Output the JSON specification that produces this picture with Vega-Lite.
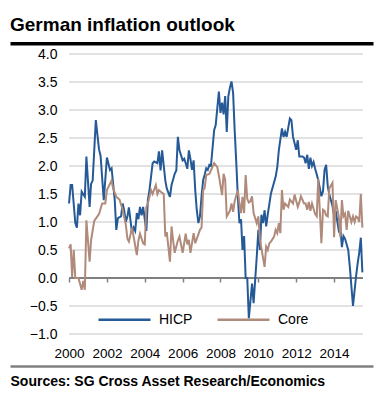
{
  "$schema": "https://vega.github.io/schema/vega-lite/v6.json",
  "width": 363,
  "height": 280,
  "autosize": {"type": "none"},
  "padding": {"left": 10, "top": 54, "right": 7, "bottom": 69},
  "background": "white",
  "config": {
    "font": "Liberation Sans",
    "view": {"stroke": null},
    "axisY": {
      "orient": "left", "offset": -59, "format": ".1f", "domain": false, "ticks": false, "grid": false,
      "labelOverlap": false, "labelPadding": 12, "labelFontSize": 14, "labelColor": "#000000"
    }
  },
  "title": {
    "text": "German inflation outlook",
    "anchor": "start",
    "fontSize": 19,
    "fontWeight": "bold",
    "color": "#000000",
    "offset": 8
  },
  "resolve": {"axis": {"x": "independent"}},
  "layer": [
    {
      "data": {"values": [{"level": -1}, {"level": -0.5}, {"level": 0.5}, {"level": 1}, {"level": 1.5}, {"level": 2}, {"level": 2.5}, {"level": 3}, {"level": 3.5}, {"level": 4}]},
      "mark": {"type": "rule", "color": "#d9d9d9", "strokeWidth": 1.5},
      "encoding": {
        "y": {
          "field": "level", "type": "quantitative", "title": null,
          "scale": {"domain": [-1, 4], "nice": false, "zero": false},
          "axis": {"values": [-1, -0.5, 0, 0.5, 1, 1.5, 2, 2.5, 3, 3.5, 4], "tickCount": 11}
        },
        "x": {
          "datum": {"year": 2000, "month": 1, "date": 1, "utc": true}, "type": "temporal",
          "scale": {"type": "utc", "domain": [{"year": 1996, "month": 11, "date": 18, "utc": true}, {"year": 2016, "month": 1, "date": 22, "utc": true}]},
          "axis": {
            "orient": "bottom", "offset": 32,
            "values": [{"year": 2000, "utc": true}, {"year": 2002, "utc": true}, {"year": 2004, "utc": true}, {"year": 2006, "utc": true}, {"year": 2008, "utc": true}, {"year": 2010, "utc": true}, {"year": 2012, "utc": true}, {"year": 2014, "utc": true}],
            "format": "%Y", "formatType": "utc", "labelOverlap": false,
            "domainColor": "#808080", "domainWidth": 2.5, "ticks": false, "grid": false,
            "labelBaseline": "middle", "labelPadding": -13, "labelFontSize": 13.5, "labelColor": "#000000",
            "title": "Sources: SG Cross Asset Research/Economics",
            "titleAnchor": "start", "titleAlign": "left", "titleFontSize": 14, "titleFontWeight": "bold",
            "titleColor": "#000000", "titlePadding": 8
          }
        },
        "x2": {"datum": {"year": 2015, "month": 7, "date": 12, "utc": true}}
      }
    },
    {
      "data": {"values": [{"level": 0}]},
      "mark": {"type": "rule", "color": "#808080", "strokeWidth": 2},
      "encoding": {
        "y": {"field": "level", "type": "quantitative", "title": null, "scale": {"domain": [-1, 4], "nice": false, "zero": false},
          "axis": {"values": [-1, -0.5, 0, 0.5, 1, 1.5, 2, 2.5, 3, 3.5, 4], "tickCount": 11}},
        "x": {
          "datum": {"year": 2000, "month": 1, "date": 1, "utc": true}, "type": "temporal",
          "scale": {"type": "utc", "domain": [{"year": 1996, "month": 11, "date": 18, "utc": true}, {"year": 2016, "month": 1, "date": 22, "utc": true}]},
          "axis": {
            "orient": "bottom", "offset": -56,
            "values": [{"year": 2000, "utc": true}, {"year": 2002, "utc": true}, {"year": 2004, "utc": true}, {"year": 2006, "utc": true}, {"year": 2008, "utc": true}, {"year": 2010, "utc": true}, {"year": 2012, "utc": true}, {"year": 2014, "utc": true}],
            "domain": false, "labels": false, "grid": false, "ticks": true,
            "tickColor": "#808080", "tickSize": 4, "tickWidth": 1.5, "title": null
          }
        },
        "x2": {"datum": {"year": 2015, "month": 7, "date": 12, "utc": true}}
      }
    },
    {
      "data": {"values": [
        {"date": "2000-01-01", "series": "HICP", "value": 1.33},
        {"date": "2000-02-01", "series": "HICP", "value": 1.66},
        {"date": "2000-03-01", "series": "HICP", "value": 1.66},
        {"date": "2000-05-01", "series": "HICP", "value": 0.98},
        {"date": "2000-06-01", "series": "HICP", "value": 0.90},
        {"date": "2000-07-01", "series": "HICP", "value": 1.33},
        {"date": "2000-08-01", "series": "HICP", "value": 1.12},
        {"date": "2000-09-01", "series": "HICP", "value": 1.54},
        {"date": "2000-11-01", "series": "HICP", "value": 1.45},
        {"date": "2000-12-01", "series": "HICP", "value": 2.17},
        {"date": "2001-02-01", "series": "HICP", "value": 1.27},
        {"date": "2001-03-01", "series": "HICP", "value": 1.68},
        {"date": "2001-04-01", "series": "HICP", "value": 1.74},
        {"date": "2001-06-01", "series": "HICP", "value": 2.82},
        {"date": "2001-08-01", "series": "HICP", "value": 2.30},
        {"date": "2001-09-01", "series": "HICP", "value": 2.18},
        {"date": "2001-11-01", "series": "HICP", "value": 1.39},
        {"date": "2002-01-01", "series": "HICP", "value": 2.15},
        {"date": "2002-03-01", "series": "HICP", "value": 1.93},
        {"date": "2002-04-01", "series": "HICP", "value": 1.96},
        {"date": "2002-06-01", "series": "HICP", "value": 1.39},
        {"date": "2002-07-01", "series": "HICP", "value": 0.86},
        {"date": "2002-08-01", "series": "HICP", "value": 1.07},
        {"date": "2002-10-01", "series": "HICP", "value": 1.10},
        {"date": "2002-11-01", "series": "HICP", "value": 1.33},
        {"date": "2002-12-01", "series": "HICP", "value": 1.20},
        {"date": "2003-01-01", "series": "HICP", "value": 1.00},
        {"date": "2003-02-01", "series": "HICP", "value": 1.10},
        {"date": "2003-03-01", "series": "HICP", "value": 1.26},
        {"date": "2003-05-01", "series": "HICP", "value": 0.80},
        {"date": "2003-06-01", "series": "HICP", "value": 0.90},
        {"date": "2003-07-01", "series": "HICP", "value": 0.84},
        {"date": "2003-08-01", "series": "HICP", "value": 1.16},
        {"date": "2003-09-01", "series": "HICP", "value": 1.05},
        {"date": "2003-10-01", "series": "HICP", "value": 1.27},
        {"date": "2003-11-01", "series": "HICP", "value": 1.12},
        {"date": "2003-12-01", "series": "HICP", "value": 1.27},
        {"date": "2004-01-01", "series": "HICP", "value": 1.05},
        {"date": "2004-02-01", "series": "HICP", "value": 0.84},
        {"date": "2004-03-01", "series": "HICP", "value": 1.39},
        {"date": "2004-04-01", "series": "HICP", "value": 1.57},
        {"date": "2004-06-01", "series": "HICP", "value": 2.05},
        {"date": "2004-07-01", "series": "HICP", "value": 2.08},
        {"date": "2004-09-01", "series": "HICP", "value": 2.05},
        {"date": "2004-10-01", "series": "HICP", "value": 2.26},
        {"date": "2004-11-01", "series": "HICP", "value": 1.92},
        {"date": "2004-12-01", "series": "HICP", "value": 2.28},
        {"date": "2005-02-01", "series": "HICP", "value": 1.74},
        {"date": "2005-03-01", "series": "HICP", "value": 1.60},
        {"date": "2005-05-01", "series": "HICP", "value": 1.45},
        {"date": "2005-06-01", "series": "HICP", "value": 1.66},
        {"date": "2005-08-01", "series": "HICP", "value": 1.86},
        {"date": "2005-09-01", "series": "HICP", "value": 1.92},
        {"date": "2005-10-01", "series": "HICP", "value": 2.52},
        {"date": "2005-11-01", "series": "HICP", "value": 2.28},
        {"date": "2006-01-01", "series": "HICP", "value": 2.10},
        {"date": "2006-02-01", "series": "HICP", "value": 2.13},
        {"date": "2006-03-01", "series": "HICP", "value": 2.05},
        {"date": "2006-04-01", "series": "HICP", "value": 1.95},
        {"date": "2006-05-01", "series": "HICP", "value": 2.28},
        {"date": "2006-06-01", "series": "HICP", "value": 2.12},
        {"date": "2006-07-01", "series": "HICP", "value": 1.93},
        {"date": "2006-08-01", "series": "HICP", "value": 2.10},
        {"date": "2006-09-01", "series": "HICP", "value": 1.57},
        {"date": "2006-10-01", "series": "HICP", "value": 1.21},
        {"date": "2006-11-01", "series": "HICP", "value": 0.98},
        {"date": "2006-12-01", "series": "HICP", "value": 1.10},
        {"date": "2007-01-01", "series": "HICP", "value": 1.46},
        {"date": "2007-02-01", "series": "HICP", "value": 1.75},
        {"date": "2007-03-01", "series": "HICP", "value": 1.84},
        {"date": "2007-04-01", "series": "HICP", "value": 1.96},
        {"date": "2007-05-01", "series": "HICP", "value": 1.93},
        {"date": "2007-06-01", "series": "HICP", "value": 2.02},
        {"date": "2007-07-01", "series": "HICP", "value": 2.00},
        {"date": "2007-09-01", "series": "HICP", "value": 2.64},
        {"date": "2007-10-01", "series": "HICP", "value": 2.73},
        {"date": "2007-12-01", "series": "HICP", "value": 3.33},
        {"date": "2008-01-01", "series": "HICP", "value": 2.95},
        {"date": "2008-02-01", "series": "HICP", "value": 3.13},
        {"date": "2008-03-01", "series": "HICP", "value": 2.92},
        {"date": "2008-04-01", "series": "HICP", "value": 3.25},
        {"date": "2008-05-01", "series": "HICP", "value": 2.61},
        {"date": "2008-06-01", "series": "HICP", "value": 3.25},
        {"date": "2008-07-01", "series": "HICP", "value": 3.40},
        {"date": "2008-08-01", "series": "HICP", "value": 3.51},
        {"date": "2008-09-01", "series": "HICP", "value": 3.30},
        {"date": "2008-10-01", "series": "HICP", "value": 2.64},
        {"date": "2008-11-01", "series": "HICP", "value": 2.06},
        {"date": "2008-12-01", "series": "HICP", "value": 1.45},
        {"date": "2009-01-01", "series": "HICP", "value": 0.98},
        {"date": "2009-02-01", "series": "HICP", "value": 1.05},
        {"date": "2009-03-01", "series": "HICP", "value": 0.50},
        {"date": "2009-04-01", "series": "HICP", "value": 0.75},
        {"date": "2009-05-01", "series": "HICP", "value": 0.00},
        {"date": "2009-06-01", "series": "HICP", "value": 0.00},
        {"date": "2009-07-01", "series": "HICP", "value": -0.72},
        {"date": "2009-09-01", "series": "HICP", "value": -0.10},
        {"date": "2009-10-01", "series": "HICP", "value": -0.45},
        {"date": "2009-12-01", "series": "HICP", "value": 0.38},
        {"date": "2010-01-01", "series": "HICP", "value": 0.86},
        {"date": "2010-02-01", "series": "HICP", "value": 0.50},
        {"date": "2010-03-01", "series": "HICP", "value": 1.13},
        {"date": "2010-04-01", "series": "HICP", "value": 0.98},
        {"date": "2010-05-01", "series": "HICP", "value": 1.21},
        {"date": "2010-06-01", "series": "HICP", "value": 0.92},
        {"date": "2010-07-01", "series": "HICP", "value": 1.13},
        {"date": "2010-09-01", "series": "HICP", "value": 1.51},
        {"date": "2010-12-01", "series": "HICP", "value": 1.81},
        {"date": "2011-01-01", "series": "HICP", "value": 1.98},
        {"date": "2011-02-01", "series": "HICP", "value": 2.29},
        {"date": "2011-04-01", "series": "HICP", "value": 2.67},
        {"date": "2011-05-01", "series": "HICP", "value": 2.52},
        {"date": "2011-06-01", "series": "HICP", "value": 2.61},
        {"date": "2011-07-01", "series": "HICP", "value": 2.52},
        {"date": "2011-09-01", "series": "HICP", "value": 2.85},
        {"date": "2011-10-01", "series": "HICP", "value": 2.82},
        {"date": "2011-11-01", "series": "HICP", "value": 2.52},
        {"date": "2012-01-01", "series": "HICP", "value": 2.29},
        {"date": "2012-02-01", "series": "HICP", "value": 2.46},
        {"date": "2012-03-01", "series": "HICP", "value": 2.17},
        {"date": "2012-05-01", "series": "HICP", "value": 2.17},
        {"date": "2012-06-01", "series": "HICP", "value": 2.15},
        {"date": "2012-07-01", "series": "HICP", "value": 2.05},
        {"date": "2012-08-01", "series": "HICP", "value": 2.20},
        {"date": "2012-09-01", "series": "HICP", "value": 1.95},
        {"date": "2012-10-01", "series": "HICP", "value": 2.15},
        {"date": "2012-11-01", "series": "HICP", "value": 2.00},
        {"date": "2012-12-01", "series": "HICP", "value": 2.07},
        {"date": "2013-01-01", "series": "HICP", "value": 1.95},
        {"date": "2013-02-01", "series": "HICP", "value": 1.85},
        {"date": "2013-03-01", "series": "HICP", "value": 1.75},
        {"date": "2013-05-01", "series": "HICP", "value": 1.46},
        {"date": "2013-06-01", "series": "HICP", "value": 1.55},
        {"date": "2013-07-01", "series": "HICP", "value": 1.93},
        {"date": "2013-08-01", "series": "HICP", "value": 2.02},
        {"date": "2013-09-01", "series": "HICP", "value": 1.64},
        {"date": "2013-10-01", "series": "HICP", "value": 1.49},
        {"date": "2013-12-01", "series": "HICP", "value": 1.29},
        {"date": "2014-01-01", "series": "HICP", "value": 1.11},
        {"date": "2014-02-01", "series": "HICP", "value": 1.20},
        {"date": "2014-04-01", "series": "HICP", "value": 0.85},
        {"date": "2014-05-01", "series": "HICP", "value": 0.90},
        {"date": "2014-06-01", "series": "HICP", "value": 0.55},
        {"date": "2014-07-01", "series": "HICP", "value": 0.75},
        {"date": "2014-08-01", "series": "HICP", "value": 0.70},
        {"date": "2014-10-01", "series": "HICP", "value": 0.50},
        {"date": "2014-11-01", "series": "HICP", "value": 0.20},
        {"date": "2015-01-01", "series": "HICP", "value": -0.50},
        {"date": "2015-03-01", "series": "HICP", "value": 0.03},
        {"date": "2015-04-01", "series": "HICP", "value": 0.26},
        {"date": "2015-05-01", "series": "HICP", "value": 0.45},
        {"date": "2015-06-01", "series": "HICP", "value": 0.72},
        {"date": "2015-07-01", "series": "HICP", "value": 0.10},
        {"date": "2000-01-01", "series": "Core", "value": 0.53},
        {"date": "2000-02-01", "series": "Core", "value": 0.60},
        {"date": "2000-03-01", "series": "Core", "value": 0.02},
        {"date": "2000-04-01", "series": "Core", "value": 0.50},
        {"date": "2000-05-01", "series": "Core", "value": 0.00},
        {"date": "2000-07-01", "series": "Core", "value": 0.00},
        {"date": "2000-09-01", "series": "Core", "value": -0.21},
        {"date": "2000-10-01", "series": "Core", "value": -0.05},
        {"date": "2000-11-01", "series": "Core", "value": -0.21},
        {"date": "2000-12-01", "series": "Core", "value": 1.03},
        {"date": "2001-02-01", "series": "Core", "value": 0.29},
        {"date": "2001-03-01", "series": "Core", "value": 0.67},
        {"date": "2001-05-01", "series": "Core", "value": 1.02},
        {"date": "2001-07-01", "series": "Core", "value": 1.10},
        {"date": "2001-08-01", "series": "Core", "value": 1.14},
        {"date": "2001-10-01", "series": "Core", "value": 1.33},
        {"date": "2001-12-01", "series": "Core", "value": 1.33},
        {"date": "2002-01-01", "series": "Core", "value": 1.57},
        {"date": "2002-04-01", "series": "Core", "value": 1.74},
        {"date": "2002-05-01", "series": "Core", "value": 1.60},
        {"date": "2002-07-01", "series": "Core", "value": 1.45},
        {"date": "2002-09-01", "series": "Core", "value": 1.40},
        {"date": "2002-11-01", "series": "Core", "value": 1.22},
        {"date": "2003-01-01", "series": "Core", "value": 0.95},
        {"date": "2003-02-01", "series": "Core", "value": 0.70},
        {"date": "2003-03-01", "series": "Core", "value": 0.65},
        {"date": "2003-05-01", "series": "Core", "value": 0.90},
        {"date": "2003-08-01", "series": "Core", "value": 0.41},
        {"date": "2003-09-01", "series": "Core", "value": 0.67},
        {"date": "2003-10-01", "series": "Core", "value": 0.79},
        {"date": "2003-12-01", "series": "Core", "value": 0.62},
        {"date": "2004-01-01", "series": "Core", "value": 0.60},
        {"date": "2004-02-01", "series": "Core", "value": 1.27},
        {"date": "2004-03-01", "series": "Core", "value": 1.33},
        {"date": "2004-05-01", "series": "Core", "value": 1.57},
        {"date": "2004-06-01", "series": "Core", "value": 1.50},
        {"date": "2004-08-01", "series": "Core", "value": 1.66},
        {"date": "2004-09-01", "series": "Core", "value": 1.50},
        {"date": "2004-10-01", "series": "Core", "value": 1.57},
        {"date": "2004-12-01", "series": "Core", "value": 1.52},
        {"date": "2005-01-01", "series": "Core", "value": 1.50},
        {"date": "2005-02-01", "series": "Core", "value": 0.74},
        {"date": "2005-03-01", "series": "Core", "value": 0.82},
        {"date": "2005-05-01", "series": "Core", "value": 0.29},
        {"date": "2005-06-01", "series": "Core", "value": 0.92},
        {"date": "2005-07-01", "series": "Core", "value": 0.67},
        {"date": "2005-08-01", "series": "Core", "value": 0.45},
        {"date": "2005-10-01", "series": "Core", "value": 0.67},
        {"date": "2005-11-01", "series": "Core", "value": 0.74},
        {"date": "2006-01-01", "series": "Core", "value": 0.45},
        {"date": "2006-03-01", "series": "Core", "value": 0.79},
        {"date": "2006-04-01", "series": "Core", "value": 0.60},
        {"date": "2006-05-01", "series": "Core", "value": 0.68},
        {"date": "2006-06-01", "series": "Core", "value": 0.45},
        {"date": "2006-08-01", "series": "Core", "value": 0.80},
        {"date": "2006-09-01", "series": "Core", "value": 0.62},
        {"date": "2006-10-01", "series": "Core", "value": 0.70},
        {"date": "2006-12-01", "series": "Core", "value": 0.86},
        {"date": "2007-01-01", "series": "Core", "value": 0.90},
        {"date": "2007-02-01", "series": "Core", "value": 1.57},
        {"date": "2007-03-01", "series": "Core", "value": 1.60},
        {"date": "2007-04-01", "series": "Core", "value": 1.84},
        {"date": "2007-06-01", "series": "Core", "value": 1.86},
        {"date": "2007-09-01", "series": "Core", "value": 2.05},
        {"date": "2007-11-01", "series": "Core", "value": 1.98},
        {"date": "2007-12-01", "series": "Core", "value": 1.83},
        {"date": "2008-02-01", "series": "Core", "value": 1.48},
        {"date": "2008-03-01", "series": "Core", "value": 1.86},
        {"date": "2008-04-01", "series": "Core", "value": 1.75},
        {"date": "2008-05-01", "series": "Core", "value": 1.10},
        {"date": "2008-07-01", "series": "Core", "value": 1.20},
        {"date": "2008-08-01", "series": "Core", "value": 1.33},
        {"date": "2008-09-01", "series": "Core", "value": 1.18},
        {"date": "2008-10-01", "series": "Core", "value": 1.37},
        {"date": "2008-12-01", "series": "Core", "value": 1.57},
        {"date": "2009-01-01", "series": "Core", "value": 1.33},
        {"date": "2009-02-01", "series": "Core", "value": 1.16},
        {"date": "2009-03-01", "series": "Core", "value": 1.45},
        {"date": "2009-04-01", "series": "Core", "value": 1.16},
        {"date": "2009-05-01", "series": "Core", "value": 1.84},
        {"date": "2009-06-01", "series": "Core", "value": 1.41},
        {"date": "2009-07-01", "series": "Core", "value": 1.35},
        {"date": "2009-08-01", "series": "Core", "value": 1.37},
        {"date": "2009-09-01", "series": "Core", "value": 1.46},
        {"date": "2009-10-01", "series": "Core", "value": 1.16},
        {"date": "2009-12-01", "series": "Core", "value": 0.98},
        {"date": "2010-01-01", "series": "Core", "value": 1.10},
        {"date": "2010-02-01", "series": "Core", "value": 0.68},
        {"date": "2010-05-01", "series": "Core", "value": 0.20},
        {"date": "2010-06-01", "series": "Core", "value": 0.56},
        {"date": "2010-07-01", "series": "Core", "value": 0.50},
        {"date": "2010-08-01", "series": "Core", "value": 0.62},
        {"date": "2010-09-01", "series": "Core", "value": 0.65},
        {"date": "2010-11-01", "series": "Core", "value": 0.74},
        {"date": "2010-12-01", "series": "Core", "value": 0.86},
        {"date": "2011-01-01", "series": "Core", "value": 0.80},
        {"date": "2011-02-01", "series": "Core", "value": 0.98},
        {"date": "2011-03-01", "series": "Core", "value": 0.80},
        {"date": "2011-04-01", "series": "Core", "value": 1.57},
        {"date": "2011-05-01", "series": "Core", "value": 1.22},
        {"date": "2011-06-01", "series": "Core", "value": 1.33},
        {"date": "2011-08-01", "series": "Core", "value": 1.27},
        {"date": "2011-09-01", "series": "Core", "value": 1.40},
        {"date": "2011-11-01", "series": "Core", "value": 1.33},
        {"date": "2011-12-01", "series": "Core", "value": 1.49},
        {"date": "2012-02-01", "series": "Core", "value": 1.27},
        {"date": "2012-03-01", "series": "Core", "value": 1.35},
        {"date": "2012-04-01", "series": "Core", "value": 1.46},
        {"date": "2012-06-01", "series": "Core", "value": 1.33},
        {"date": "2012-07-01", "series": "Core", "value": 1.33},
        {"date": "2012-08-01", "series": "Core", "value": 1.22},
        {"date": "2012-09-01", "series": "Core", "value": 1.36},
        {"date": "2012-10-01", "series": "Core", "value": 1.20},
        {"date": "2012-11-01", "series": "Core", "value": 1.33},
        {"date": "2013-01-01", "series": "Core", "value": 1.14},
        {"date": "2013-02-01", "series": "Core", "value": 1.10},
        {"date": "2013-03-01", "series": "Core", "value": 1.77},
        {"date": "2013-04-01", "series": "Core", "value": 1.20},
        {"date": "2013-05-01", "series": "Core", "value": 0.62},
        {"date": "2013-06-01", "series": "Core", "value": 1.22},
        {"date": "2013-07-01", "series": "Core", "value": 1.20},
        {"date": "2013-08-01", "series": "Core", "value": 1.12},
        {"date": "2013-09-01", "series": "Core", "value": 1.10},
        {"date": "2013-10-01", "series": "Core", "value": 1.60},
        {"date": "2013-12-01", "series": "Core", "value": 1.70},
        {"date": "2014-01-01", "series": "Core", "value": 0.73},
        {"date": "2014-02-01", "series": "Core", "value": 1.39},
        {"date": "2014-04-01", "series": "Core", "value": 1.10},
        {"date": "2014-05-01", "series": "Core", "value": 0.73},
        {"date": "2014-06-01", "series": "Core", "value": 1.39},
        {"date": "2014-07-01", "series": "Core", "value": 1.10},
        {"date": "2014-08-01", "series": "Core", "value": 1.15},
        {"date": "2014-09-01", "series": "Core", "value": 0.86},
        {"date": "2014-10-01", "series": "Core", "value": 1.20},
        {"date": "2014-12-01", "series": "Core", "value": 1.00},
        {"date": "2015-01-01", "series": "Core", "value": 1.10},
        {"date": "2015-02-01", "series": "Core", "value": 1.00},
        {"date": "2015-03-01", "series": "Core", "value": 1.10},
        {"date": "2015-04-01", "series": "Core", "value": 1.08},
        {"date": "2015-05-01", "series": "Core", "value": 1.00},
        {"date": "2015-06-01", "series": "Core", "value": 1.50},
        {"date": "2015-07-01", "series": "Core", "value": 0.90}
      ]},
      "mark": {"type": "line", "strokeWidth": 2},
      "encoding": {
        "x": {
          "field": "date", "type": "temporal",
          "scale": {"type": "utc", "domain": [{"year": 1996, "month": 11, "date": 18, "utc": true}, {"year": 2016, "month": 1, "date": 22, "utc": true}]},
          "axis": {"orient": "top", "offset": 10.7, "domainColor": "#000000", "domainWidth": 3.5, "labels": false, "ticks": false, "grid": false, "title": null}
        },
        "y": {"field": "value", "type": "quantitative", "title": null, "scale": {"domain": [-1, 4], "nice": false, "zero": false},
          "axis": {"values": [-1, -0.5, 0, 0.5, 1, 1.5, 2, 2.5, 3, 3.5, 4], "tickCount": 11}},
        "color": {
          "field": "series", "type": "nominal",
          "scale": {"domain": ["HICP", "Core"], "range": ["#265a97", "#b08a7a"]},
          "legend": {
            "orient": "none", "legendX": 87, "legendY": 238, "direction": "horizontal",
            "title": null, "symbolType": "stroke", "symbolSize": 2704, "symbolStrokeWidth": 2.5,
            "labelFontSize": 14, "labelColor": "#000000", "labelOffset": 7, "columnPadding": 19,
            "padding": 0
          }
        }
      }
    }
  ]
}
